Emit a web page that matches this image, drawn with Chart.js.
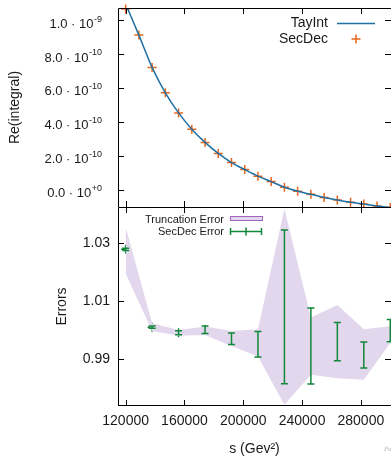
<!DOCTYPE html>
<html>
<head>
<meta charset="utf-8">
<script src="https://cdn.jsdelivr.net/npm/chart.js@4.4.1/dist/chart.umd.min.js"></script>
<style>
  html, body { margin: 0; padding: 0; background: #fff; overflow: hidden; }
  #wrap { position: relative; width: 391px; height: 458px; }
  canvas { position: absolute; left: 0; }
  #mark { position: absolute; left: 384px; top: 445px; font: italic 6px "DejaVu Serif"; color: #b0b0b0; }
</style>
</head>
<body>
<div id="wrap">
  <canvas id="topChart" width="391" height="207" style="top:0"></canvas>
  <canvas id="errChart" width="391" height="251" style="top:207px"></canvas>
  <span id="mark">Pa</span>
</div>
<script>
// upper panel: Re(integral) vs s
var sValues = [120000, 129000, 138000, 147000, 156000, 165000, 174000, 183000, 192000, 201000, 210000,
               219000, 228000, 237000, 246000, 255000, 264000, 273000, 282000, 291000, 300000];
var secDec = [10.65e-10, 9.11e-10, 7.20e-10, 5.71e-10, 4.52e-10, 3.56e-10, 2.78e-10, 2.13e-10, 1.59e-10, 1.18e-10, 0.79e-10,
              0.47e-10, 0.136e-10, -0.10e-10, -0.28e-10, -0.47e-10, -0.62e-10, -0.75e-10, -0.86e-10, -0.97e-10, -1.06e-10];
var tayInt = [10.95e-10, 9.11e-10, 7.21e-10, 5.71e-10, 4.52e-10, 3.56e-10, 2.78e-10, 2.13e-10, 1.59e-10, 1.18e-10, 0.79e-10,
              0.47e-10, 0.135e-10, -0.10e-10, -0.28e-10, -0.47e-10, -0.62e-10, -0.75e-10, -0.86e-10, -0.97e-10, -1.06e-10];
var topTicks = [0, 2e-10, 4e-10, 6e-10, 8e-10, 1e-9];
var topMant = ['0.0', '2.0', '4.0', '6.0', '8.0', '1.0'];
var topExp = ['+0', '-10', '-10', '-10', '-10', '-9'];

// lower panel: ratios with errors
var errS = [120000, 138000, 156000, 174000, 192000, 210000, 228000, 246000, 264000, 282000, 300000];
var ratio = [1.0278, 1.0010, 0.9991, 1.0001, 0.9970, 0.9951, 1.0080, 0.9945, 0.9960, 0.9914, 0.9998];
var ratioErr = [0.0004, 0.0004, 0.0007, 0.0013, 0.0020, 0.0044, 0.0265, 0.0131, 0.0066, 0.0045, 0.0038];
var truncHigh = [1.0355, 1.0023, 1.0000, 1.0012, 0.9997, 1.0003, 1.0418, 1.0043, 1.0086, 1.0003, 1.0013];
var truncLow = [1.0195, 0.9997, 0.9980, 0.9983, 0.9945, 0.9909, 0.9743, 0.9846, 0.9834, 0.9829, 0.9955];
var errTicks = [0.99, 1.01, 1.03];
var sTicks = [120000, 160000, 200000, 240000, 280000];

var FONT = '"Liberation Sans", Arial, sans-serif';
var TXT = '#1a1a1a';
var BLUE = '#1f6fa3', ORANGE = '#e8661c', GREEN = '#11883a', LAV = '#e2d7ec', PURPLE = '#a066c0';

function pts(xs, ys) {
  return xs.map(function(x, i) { return {x: x, y: ys[i]}; });
}

// no extra room for edge labels, the areas are placed by hand
function noPad(s) {
  s.paddingTop = 0; s.paddingBottom = 0; s.paddingLeft = 0; s.paddingRight = 0;
}

// frame and inward ticks, gnuplot style
function drawFrame(ctx, a, x, y, xt, yt, drawBottom) {
  ctx.save();
  ctx.strokeStyle = '#000';
  ctx.lineWidth = 1;
  ctx.beginPath();
  ctx.moveTo(a.left + 0.5, a.bottom);
  ctx.lineTo(a.left + 0.5, a.top + 0.5);
  ctx.lineTo(a.right, a.top + 0.5);
  if (drawBottom) {
    ctx.moveTo(a.left, a.bottom - 0.5);
    ctx.lineTo(a.right, a.bottom - 0.5);
  }
  xt.forEach(function(v) {
    var px = Math.round(x.getPixelForValue(v)) + 0.5;
    ctx.moveTo(px, a.top); ctx.lineTo(px, a.top + 6);
    ctx.moveTo(px, a.bottom); ctx.lineTo(px, a.bottom - 6);
  });
  yt.forEach(function(v) {
    var py = Math.round(y.getPixelForValue(v)) + 0.5;
    ctx.moveTo(a.left, py); ctx.lineTo(a.left + 6, py);
    ctx.moveTo(a.right, py); ctx.lineTo(a.right - 6, py);
  });
  ctx.stroke();
  ctx.restore();
}

var topPlugin = {
  id: 'topDeco',
  afterDraw: function(chart) {
    var ctx = chart.ctx, a = chart.chartArea, x = chart.scales.x, y = chart.scales.y;
    drawFrame(ctx, a, x, y, sTicks, topTicks, false);
    ctx.save();
    ctx.fillStyle = TXT;
    ctx.textAlign = 'right';
    ctx.textBaseline = 'middle';
    topTicks.forEach(function(v, i) {
      var py = y.getPixelForValue(v);
      ctx.font = '9px ' + FONT;
      var ew = ctx.measureText(topExp[i]).width;
      ctx.fillText(topExp[i], 102, py - 1);
      ctx.font = '13px ' + FONT;
      ctx.fillText(topMant[i] + ' \u00b7 10', 102 - ew - 0.5, py + 4);
    });
    // legend
    ctx.font = '14px ' + FONT;
    ctx.fillText('TayInt', 328, 23);
    ctx.fillText('SecDec', 328, 39);
    ctx.strokeStyle = BLUE;
    ctx.lineWidth = 1.5;
    ctx.beginPath();
    ctx.moveTo(337, 23.5); ctx.lineTo(375, 23.5);
    ctx.stroke();
    ctx.strokeStyle = ORANGE;
    ctx.beginPath();
    ctx.moveTo(351.5, 39); ctx.lineTo(360.5, 39);
    ctx.moveTo(356, 34.5); ctx.lineTo(356, 43.5);
    ctx.stroke();
    ctx.restore();
  }
};

var errPlugin = {
  id: 'errDeco',
  afterDatasetsDraw: function(chart) {
    var ctx = chart.ctx, x = chart.scales.x, y = chart.scales.y;
    ctx.save();
    ctx.strokeStyle = GREEN;
    ctx.lineWidth = 1.5;
    ctx.beginPath();
    errS.forEach(function(s, i) {
      var px = x.getPixelForValue(s);
      var hi = y.getPixelForValue(ratio[i] + ratioErr[i]);
      var lo = y.getPixelForValue(ratio[i] - ratioErr[i]);
      ctx.moveTo(px, hi); ctx.lineTo(px, lo);
      ctx.moveTo(px - 3.5, hi); ctx.lineTo(px + 3.5, hi);
      ctx.moveTo(px - 3.5, lo); ctx.lineTo(px + 3.5, lo);
    });
    ctx.stroke();
    ctx.restore();
  },
  afterDraw: function(chart) {
    var ctx = chart.ctx, a = chart.chartArea, x = chart.scales.x, y = chart.scales.y;
    drawFrame(ctx, a, x, y, sTicks, errTicks, true);
    ctx.save();
    ctx.fillStyle = TXT;
    ctx.textAlign = 'right';
    ctx.textBaseline = 'middle';
    ctx.font = '11px ' + FONT;
    ctx.fillText('Truncation Error', 224, 13);
    ctx.fillText('SecDec Error', 224, 25);
    ctx.fillStyle = LAV;
    ctx.strokeStyle = PURPLE;
    ctx.lineWidth = 1;
    ctx.fillRect(230.5, 9.5, 32, 4);
    ctx.strokeRect(230.5, 9.5, 32, 4);
    ctx.strokeStyle = GREEN;
    ctx.lineWidth = 1.5;
    ctx.beginPath();
    ctx.moveTo(230, 24.5); ctx.lineTo(262, 24.5);
    ctx.moveTo(230.5, 21); ctx.lineTo(230.5, 28);
    ctx.moveTo(261.5, 21); ctx.lineTo(261.5, 28);
    ctx.moveTo(246, 20.5); ctx.lineTo(246, 28.5);
    ctx.stroke();
    ctx.restore();
  }
};

var common = {
  responsive: false,
  animation: false,
  devicePixelRatio: 1,
  plugins: { legend: { display: false }, tooltip: { enabled: false } }
};

new Chart(document.getElementById('topChart').getContext('2d'), {
  type: 'scatter',
  data: {
    datasets: [{
      label: 'TayInt',
      data: pts(sValues, tayInt),
      showLine: true,
      borderColor: BLUE,
      borderWidth: 1.5,
      pointRadius: 0,
      cubicInterpolationMode: 'monotone'
    }, {
      label: 'SecDec',
      data: pts(sValues, secDec),
      pointStyle: 'cross',
      pointRadius: 4.5,
      borderColor: ORANGE,
      backgroundColor: ORANGE,
      pointBorderWidth: 1.5,
      clip: false
    }]
  },
  options: Object.assign({}, common, {
    layout: { autoPadding: false, padding: { top: 8, right: 0, bottom: 0, left: 0 } },
    scales: {
      x: { type: 'linear', display: false, min: 114800, max: 300500, afterFit: noPad },
      y: {
        type: 'linear', min: -1.03e-10, max: 1.071e-9,
        afterFit: function(s) { s.width = 118; noPad(s); },
        ticks: { display: false },
        grid: { display: false, drawTicks: false },
        border: { display: false },
        title: { display: true, text: 'Re(integral)', color: TXT,
                 font: { family: FONT, size: 14 }, padding: { top: 6.6, bottom: 0 } }
      }
    }
  }),
  plugins: [topPlugin]
});

new Chart(document.getElementById('errChart').getContext('2d'), {
  type: 'scatter',
  data: {
    datasets: [{
      label: 'Truncation Error',
      data: pts(errS, truncHigh),
      showLine: true,
      borderColor: 'rgba(0,0,0,0)',
      backgroundColor: LAV,
      pointRadius: 0,
      fill: '+1'
    }, {
      label: 'trunc low',
      data: pts(errS, truncLow),
      showLine: true,
      borderColor: 'rgba(0,0,0,0)',
      pointRadius: 0,
      fill: false
    }, {
      label: 'SecDec Error',
      data: pts(errS, ratio),
      pointStyle: 'cross',
      pointRadius: 4.5,
      borderColor: GREEN,
      backgroundColor: GREEN,
      pointBorderWidth: 1.5,
      clip: false
    }]
  },
  options: Object.assign({}, common, {
    layout: { autoPadding: false, padding: { top: 0, right: 0, bottom: 0, left: 0 } },
    scales: {
      x: {
        type: 'linear', min: 114800, max: 300500,
        afterBuildTicks: function(s) { s.ticks = sTicks.map(function(v) { return {value: v}; }); },
        afterFit: function(s) { s.height = 52; noPad(s); },
        ticks: { color: TXT, font: { family: FONT, size: 14 }, padding: 7, autoSkip: false, maxRotation: 0,
                 callback: function(v) { return String(v); } },
        grid: { display: false, drawTicks: false },
        border: { display: false },
        title: { display: true, text: 's (Gev\u00b2)', color: TXT,
                 font: { family: FONT, size: 14 }, padding: { top: 0, bottom: 0 } }
      },
      y: {
        type: 'linear', min: 0.97384, max: 1.04238,
        afterBuildTicks: function(s) { s.ticks = errTicks.map(function(v) { return {value: v}; }); },
        afterFit: function(s) { s.width = 118; noPad(s); },
        ticks: { color: TXT, font: { family: FONT, size: 14 }, padding: 8,
                 callback: function(v) { return v.toFixed(2); } },
        grid: { display: false, drawTicks: false },
        border: { display: false },
        title: { display: true, text: 'Errors', color: TXT,
                 font: { family: FONT, size: 14 }, padding: { top: 53.3, bottom: 0 } }
      }
    }
  }),
  plugins: [errPlugin]
});
</script>
</body>
</html>
